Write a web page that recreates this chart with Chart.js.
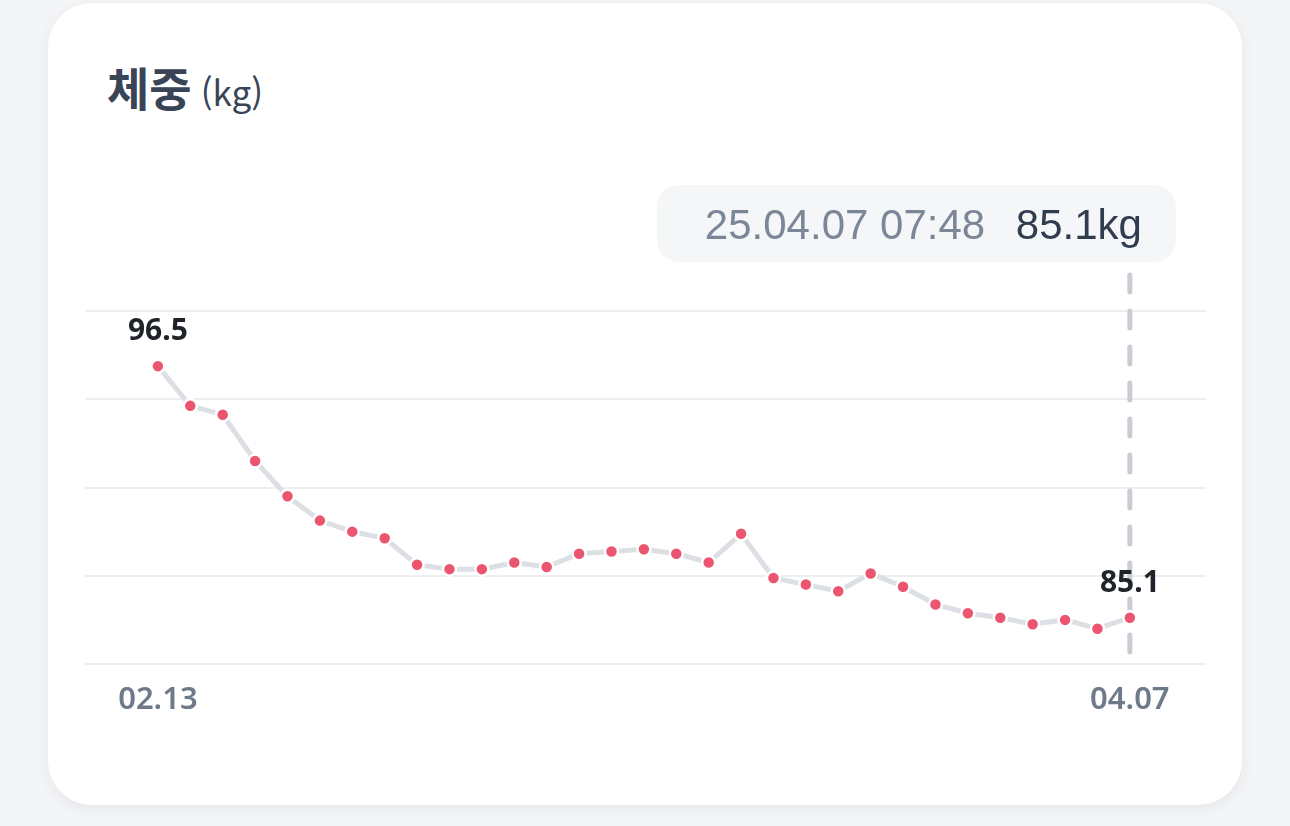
<!DOCTYPE html>
<html lang="ko">
<head>
<meta charset="utf-8">
<title>체중</title>
<script src="https://cdn.jsdelivr.net/npm/chart.js@4"></script>
<style>
  html, body { margin: 0; padding: 0; }
  body { width: 1290px; height: 826px; background: #f4f5f7; position: relative; overflow: hidden; }
  .card {
    position: absolute; left: 48px; top: 3px; width: 1194px; height: 802px;
    background: #fff; border-radius: 44px;
    box-shadow: 0 4px 14px rgba(30, 40, 60, 0.07);
  }
  .title {
    position: absolute; left: 107px; top: 63px; line-height: 1;
    font-family: "Noto Sans CJK KR", "Noto Sans", sans-serif;
    font-size: 46px; font-weight: 700; color: #3a4457; white-space: nowrap;
  }
  .title span { font-size: 35px; font-weight: 400; margin-left: 9px; }
  #chart { position: absolute; left: 0; top: 0; }
</style>
</head>
<body>
<div class="card"></div>
<div class="title">체중<span>(kg)</span></div>
<canvas id="chart" width="1290" height="826"></canvas>
<script>
// weight readings, 31 measurements from 02.13 to 04.07
const weights = [96.5, 94.7, 94.3, 92.2, 90.6, 89.5, 89.0, 88.7, 87.5, 87.3,
                 87.3, 87.6, 87.4, 88.0, 88.1, 88.2, 88.0, 87.6, 88.9, 86.9,
                 86.6, 86.3, 87.1, 86.5, 85.7, 85.3, 85.1, 84.8, 85.0, 84.6, 85.1];
const xTickPos = [0, 30];
const xTickLabels = ['02.13', '04.07'];
const tipTime = '25.04.07 07:48';
const tipUnit = 'kg';

const points = weights.map((w, i) => ({ x: i, y: w }));

const extras = {
    id: 'extras',
    beforeDatasetsDraw(chart) {
        const ctx = chart.ctx;
        const meta = chart.getDatasetMeta(0);
        const last = meta.data[meta.data.length - 1];
        ctx.save();
        ctx.strokeStyle = '#c9cdd3';
        ctx.lineWidth = 5;
        ctx.lineCap = 'round';
        ctx.setLineDash([17, 19]);
        ctx.beginPath();
        ctx.moveTo(last.x, 275);
        ctx.lineTo(last.x, chart.chartArea.bottom - 10);
        ctx.stroke();
        ctx.restore();
    },
    afterDatasetsDraw(chart) {
        const ctx = chart.ctx;
        const meta = chart.getDatasetMeta(0);
        const first = meta.data[0];
        const last = meta.data[meta.data.length - 1];
        ctx.save();
        // value labels on first and last point
        ctx.font = 'bold 30px "Noto Sans", sans-serif';
        ctx.fillStyle = '#1f232a';
        ctx.textAlign = 'center';
        ctx.textBaseline = 'middle';
        ctx.fillText(weights[0].toFixed(1), first.x, first.y - 35);
        ctx.fillText(weights[weights.length - 1].toFixed(1), last.x, last.y - 34);

        // tooltip box
        const bx = last.x + 46 - 519, by = 185, bw = 519, bh = 77;
        ctx.fillStyle = '#f4f6f8';
        ctx.beginPath();
        ctx.roundRect(bx, by, bw, bh, 22);
        ctx.fill();
        ctx.font = '42px "Liberation Sans", Arial, sans-serif';
        ctx.textAlign = 'left';
        ctx.textBaseline = 'alphabetic';
        ctx.fillStyle = '#7b8797';
        ctx.fillText(tipTime, bx + 48, by + 54);
        ctx.fillStyle = '#323c4f';
        ctx.fillText(weights[weights.length - 1].toFixed(1) + tipUnit, bx + 359, by + 54);
        ctx.restore();
    }
};

new Chart(document.getElementById('chart'), {
    type: 'line',
    data: {
        datasets: [{
            data: points,
            borderColor: '#dcdfe4',
            borderWidth: 5,
            tension: 0,
            pointRadius: 6.5,
            pointBackgroundColor: '#ec5570',
            pointBorderColor: '#ffffff',
            pointBorderWidth: 2.5
        }]
    },
    options: {
        responsive: false,
        animation: false,
        events: [],
        layout: {
            padding: { left: 85, right: 84, top: 311, bottom: 112 }
        },
        plugins: {
            legend: { display: false },
            tooltip: { enabled: false }
        },
        scales: {
            x: {
                type: 'linear',
                min: -2.25,
                max: 32.35,
                afterBuildTicks: scale => {
                    scale.ticks = xTickPos.map(v => ({ value: v }));
                },
                afterFit: scale => { scale.height = 50; },
                grid: { display: false },
                border: { display: false },
                ticks: {
                    padding: 10,
                    color: '#6e7a8a',
                    font: { family: '"Noto Sans", sans-serif', size: 31, weight: '600' },
                    callback: value => xTickLabels[xTickPos.indexOf(value)]
                }
            },
            y: {
                min: 83,
                max: 99,
                afterFit: scale => { scale.width = 0; },
                ticks: { display: false, stepSize: 4 },
                grid: { color: '#eceef1', lineWidth: 2, drawTicks: false },
                border: { display: false }
            }
        }
    },
    plugins: [extras]
});
</script>
</body>
</html>
